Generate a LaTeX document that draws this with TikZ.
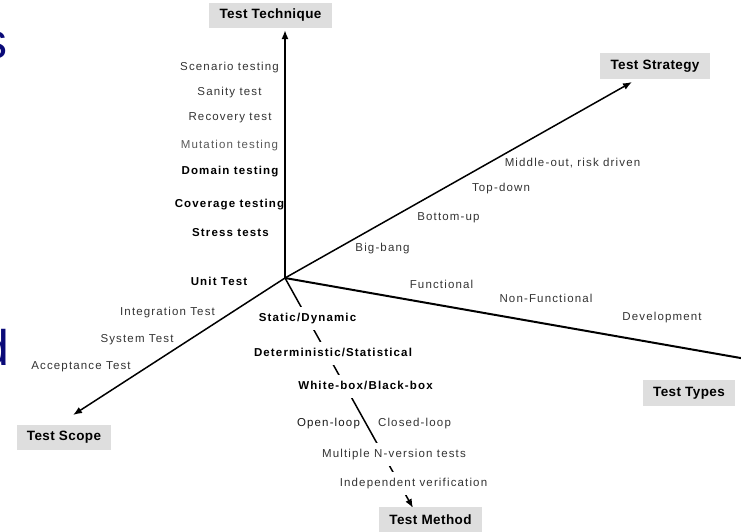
\documentclass[tikz,border=0pt]{standalone}
\usepackage{fontspec}
\usetikzlibrary{arrows.meta}
\setmainfont{Liberation Sans}
\newfontfamily\spacedfont[LetterSpace=10]{Liberation Sans}
\newfontfamily\boxfont[LetterSpace=3]{Liberation Sans}
\definecolor{titleblue}{RGB}{10,10,120}
\definecolor{boxgray}{RGB}{222,222,222}

\begin{document}
\begin{tikzpicture}[x=1pt,y=-1pt]

    \useasboundingbox (0,0) rectangle (741,531);
    \clip (0,0) rectangle (741,531);

    \tikzset{axis/.style={-{Latex[length=9pt,width=7pt]}, line width=1.5pt},
             lbl/.style={inner sep=1pt, text=black!80, font=\spacedfont\fontsize{11.5}{13}\selectfont},
             blbl/.style={lbl, text=black, font=\spacedfont\bfseries\fontsize{11.5}{13}\selectfont},
             mlbl/.style={fill=white, inner xsep=2pt, inner ysep=6pt, text height=8.5pt, text depth=2.5pt},
             axisbox/.style={fill=boxgray, inner sep=0pt, minimum height=25pt, font=\boxfont\bfseries\fontsize{13.5}{15}\selectfont}}

    % Cut-off title letters
    \node[anchor=base east, inner sep=0pt, text=titleblue, font=\fontsize{50}{52}\selectfont] (titleS) at (7.5,58) {s};
    \node[anchor=base east, inner sep=0pt, text=titleblue, font=\fontsize{50}{52}\selectfont] (titleD) at (10,365) {d};

    % Axes
    \coordinate (o) at (285,278);
    \coordinate (techTip) at (285,30);
    \coordinate (stratTip) at (632,82);
    \coordinate (typesTip) at (752,360);
    \coordinate (scopeTip) at (73,415);
    \coordinate (methodTip) at (413,508);

    \draw[axis, line width=2pt] (o) -- (techTip);
    \draw[axis] (o) -- (stratTip);
    \draw[axis, line width=2pt] (o) -- (typesTip);
    \draw[axis] (o) -- (scopeTip);
    \draw[axis] (o) -- (methodTip);

    % Axis names
    \node[axisbox, minimum width=123pt] (techBox) at (270.5,15.5) {Test Technique};
    \node[axisbox, minimum width=110pt, minimum height=26pt] (stratBox) at (655,66) {Test Strategy};
    \node[axisbox, minimum width=92pt, minimum height=26pt] (typesBox) at (689,393) {Test Types};
    \node[axisbox, minimum width=94pt] (scopeBox) at (64,437) {Test Scope};
    \node[axisbox, minimum width=103pt, minimum height=26pt] (methodBox) at (430.5,520) {Test Method};

    % Test technique
    \node[lbl] (scenario) at (229.5,68) {Scenario testing};
    \node[lbl] (sanity) at (229.5,93) {Sanity test};
    \node[lbl] (recovery) at (230,118) {Recovery test};
    \node[lbl, text=black!65] (mutation) at (229.5,146) {Mutation testing};
    \node[blbl] (domain) at (230,172) {Domain testing};
    \node[blbl] (coverage) at (229.5,205) {Coverage testing};
    \node[blbl] (stress) at (230.5,233) {Stress tests};

    % Test scope
    \node[blbl] (unit) at (219,281) {Unit Test};
    \node[lbl] (integration) at (167.5,313) {Integration Test};
    \node[lbl] (system) at (137,340) {System Test};
    \node[lbl] (acceptance) at (81,367) {Acceptance Test};

    % Test strategy
    \node[lbl] (bigbang) at (382.5,249) {Big-bang};
    \node[lbl] (bottomup) at (448.5,218) {Bottom-up};
    \node[lbl] (topdown) at (501,189) {Top-down};
    \node[lbl] (middleout) at (572.5,163) {Middle-out, risk driven};

    % Test types
    \node[lbl] (functional) at (441.5,284) {Functional};
    \node[lbl] (nonfunctional) at (546,298) {Non-Functional};
    \node[lbl] (development) at (662,318) {Development};

    % Test method
    \node[blbl, mlbl] (static) at (307.5,318) {Static/Dynamic};
    \node[blbl, mlbl] (determ) at (333,353) {Deterministic/Statistical};
    \node[blbl, mlbl] (whitebox) at (365.5,386) {White-box/Black-box};
    \node[lbl, text=black!90] (openloop) at (328.5,424) {Open-loop};
    \node[lbl] (closedloop) at (414.5,424) {Closed-loop};
    \node[lbl, mlbl] (nversion) at (394,454) {Multiple N-version tests};
    \node[lbl, mlbl] (independent) at (413.5,483) {Independent verification};

\end{tikzpicture}
\end{document}
